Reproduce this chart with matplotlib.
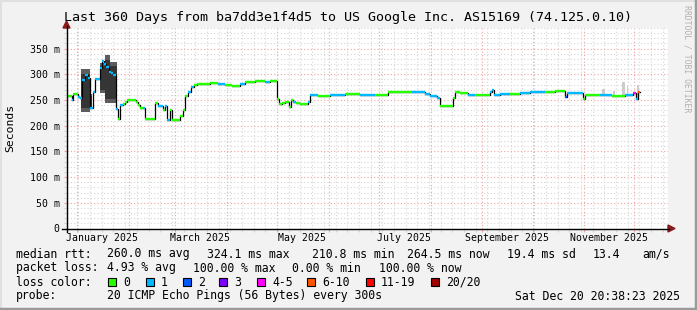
import matplotlib
matplotlib.use('Agg')
import matplotlib.pyplot as plt
import matplotlib.dates as mdates
from matplotlib.ticker import MultipleLocator, FuncFormatter, NullFormatter
from matplotlib.patches import Rectangle, Polygon
from matplotlib.lines import Line2D
import numpy as np
from datetime import datetime

W, H = 697, 310
MONO = 'DejaVu Sans Mono'

# ---- data ----
start = datetime(2024, 12, 25, 20, 38, 23)
end = datetime(2025, 12, 20, 20, 38, 23)

loss_labels = ['0', '1', '2', '3', '4-5', '6-10', '11-19', '20/20']
loss_colors = ['#26ff00', '#00b8ff', '#0059ff', '#7e00ff', '#ff00ff', '#ff5500', '#ff0000', '#a10000']

# median rtt, as runs: day offset from start, median (ms), loss class index
run_day = [0.0, 3.0, 3.9, 6.9, 8.1, 9.3, 11.1, 12.9, 14.1, 15.6, 17.1, 20.1, 21.3, 22.5,
           23.7, 25.5, 26.7, 27.9, 29.7, 30.9, 32.1, 33.6, 35.0, 36.2, 39.8, 41.6, 42.8,
           44.3, 45.8, 47.3, 53.0, 54.8, 57.8, 59.0, 60.2, 62.0, 63.2, 68.0, 69.8, 71.0,
           72.8, 74.6, 76.4, 78.2, 86.1, 90.8, 95.0, 99.2, 103.9, 106.9, 112.9, 118.9,
           121.9, 126.1, 127.3, 129.1, 130.9, 133.3, 134.5, 135.7, 137.5, 139.9, 144.7,
           145.9, 150.7, 157.8, 166.9, 175.8, 184.8, 192.6, 199.8, 207.0, 214.8, 217.8,
           222.0, 223.8, 231.6, 232.8, 235.8, 240.6, 244.8, 253.8, 255.0, 256.1, 259.7,
           265.7, 271.7, 277.7, 286.7, 292.7, 298.7, 299.9, 309.5, 310.7, 319.7, 326.9,
           334.7, 339.4, 341.2, 342.4]
run_ms = [258, 250, 261, 255, 253, 289, 298, 292, 234, 266, 291, 312, 325, 320,
          315, 305, 302, 298, 232, 213, 240, 243, 246, 249, 250, 246, 240,
          234, 235, 213, 244, 238, 230, 238, 212, 230, 212, 218, 230, 257,
          265, 276, 280, 282, 283, 281, 280, 277, 282, 285, 286, 285,
          286, 251, 243, 244, 247, 236, 250, 246, 245, 243, 247,
          260, 258, 259, 261, 259, 260, 265, 266, 265, 262, 257,
          253, 239, 253, 265, 263, 260, 259, 266, 269, 260, 262,
          261, 264, 266, 265, 267, 256, 264, 252, 259, 259, 258,
          259, 263, 252, 266]
run_loss = [0, 1, 0, 1, 1, 1, 1, 1, 1, 1, 1, 1, 1, 1,
            1, 1, 1, 1, 1, 0, 1, 0, 0, 0, 0, 0, 0,
            0, 1, 0, 0, 1, 0, 1, 1, 0, 0, 0, 0, 0,
            1, 1, 0, 0, 0, 1, 0, 0, 1, 0, 0, 1,
            0, 0, 0, 0, 0, 0, 0, 1, 0, 0, 1,
            1, 0, 1, 0, 1, 0, 0, 0, 1, 1, 1,
            1, 0, 0, 0, 0, 1, 0, 1, 1, 1, 1,
            0, 1, 1, 0, 0, 2, 1, 0, 0, 1, 0,
            1, 4, 1, 5]
data_end_day = 343.6

# smoke (spread of the 20 pings): day range, outer ms range, inner (dense) ms range
heavy_d0 = [8.7, 14.1, 20.1, 23.1, 26.1]
heavy_d1 = [14.1, 15.3, 23.1, 26.1, 30.0]
heavy_lo = [227, 232, 264, 244, 244]
heavy_hi = [310, 262, 322, 338, 324]
heavy_in_lo = [235, 236, 270, 252, 252]
heavy_in_hi = [300, 258, 316, 328, 316]

light_d0 = [320.8, 327.4, 332.8, 335.8, 341.8]
light_d1 = [322.6, 328.6, 334.6, 336.4, 343.0]
light_lo = [258, 256, 255, 255, 254]
light_hi = [272, 268, 284, 277, 280]

label_months = [datetime(2025, m, 1) for m in (1, 3, 5, 7, 9, 11)]

# ---- figure ----
t0 = mdates.date2num(start)
fig = plt.figure(figsize=(W / 100, H / 100), dpi=100, facecolor='#f2f2f2')
ax = fig.add_axes([66.5 / W, (H - 228.5) / H, 601 / W, 200.5 / H])
ax.set_facecolor('white')
ax.set_xlim(t0, mdates.date2num(end))
ax.set_ylim(0, 390)
for s in ax.spines.values():
    s.set_visible(False)

# grid
ax.xaxis.set_major_locator(mdates.MonthLocator())
ax.xaxis.set_minor_locator(mdates.WeekdayLocator(byweekday=mdates.TH))
ax.xaxis.set_major_formatter(NullFormatter())
ax.yaxis.set_major_locator(MultipleLocator(50))
ax.yaxis.set_minor_locator(MultipleLocator(10))
ax.yaxis.set_major_formatter(FuncFormatter(lambda v, p: '0' if v == 0 else '%d m' % v))
ax.grid(which='minor', color='#d6d6d6', ls=(0, (1, 2)), lw=0.8)
ax.grid(which='major', color='#f2a0a0', ls=(0, (1, 2)), lw=0.8)
ax.set_axisbelow(True)
ax.tick_params(which='major', length=2.5, width=0.8, color='#f2a0a0', pad=2.5,
               labelsize=7.1, labelfontfamily=MONO)
ax.tick_params(which='minor', length=2, width=0.8, color='#d6d6d6')

# smoke
for d0, d1, lo, hi in zip(heavy_d0, heavy_d1, heavy_lo, heavy_hi):
    ax.fill_between([t0 + d0, t0 + d1], [lo, lo], [hi, hi], color='#5c5c5c', lw=0)
for d0, d1, lo, hi in zip(heavy_d0, heavy_d1, heavy_in_lo, heavy_in_hi):
    ax.fill_between([t0 + d0, t0 + d1], [lo, lo], [hi, hi], color='#353535', lw=0)
for d0, d1, lo, hi in zip(light_d0, light_d1, light_lo, light_hi):
    ax.fill_between([t0 + d0, t0 + d1], [lo, lo], [hi, hi], color='#cccccc', lw=0)

# median line: black steps, coloured by loss
xs = t0 + np.array(run_day + [data_end_day])
ys = np.array(run_ms + [run_ms[-1]])
ax.step(xs, ys, where='post', color='black', lw=0.9)
ax.hlines(ys[:-1], xs[:-1], xs[1:], colors=[loss_colors[c] for c in run_loss], lw=1.7)

# month labels, centred half a month after the month start
for m in label_months:
    ax.text(mdates.date2num(m) + 15, -0.046, m.strftime('%B %Y'), transform=ax.get_xaxis_transform(),
            ha='center', va='center', fontsize=7.1, family=MONO)


def fx(x):
    return x / W


def fy(y):
    return 1 - y / H


# axis lines with arrows
fig.add_artist(Line2D([fx(62), fx(669)], [fy(228.5), fy(228.5)], color='black', lw=1))
fig.add_artist(Line2D([fx(66.5), fx(66.5)], [fy(232), fy(26)], color='black', lw=1))
fig.add_artist(Polygon([(fx(668), fy(225)), (fx(668), fy(232)), (fx(675), fy(228.5))],
                       closed=True, color='#8b1a1a', transform=fig.transFigure))
fig.add_artist(Polygon([(fx(63), fy(28)), (fx(70), fy(28)), (fx(66.5), fy(21))],
                       closed=True, color='#8b1a1a', transform=fig.transFigure))

# frame
fig.add_artist(Line2D([0, 1], [fy(0.5), fy(0.5)], color='#e0e0e0', lw=1.5))
fig.add_artist(Line2D([fx(0.5), fx(0.5)], [0, 1], color='#e0e0e0', lw=1.5))
fig.add_artist(Line2D([0, 1], [fy(308.8), fy(308.8)], color='#9a9a9a', lw=2.5))
fig.add_artist(Line2D([fx(695.8), fx(695.8)], [0, 1], color='#9a9a9a', lw=2.5))

# texts
fig.text(0.5, fy(18), 'Last 360 Days from ba7dd3e1f4d5 to US Google Inc. AS15169 (74.125.0.10)',
         ha='center', va='center', fontsize=9.6, family=MONO)
fig.text(fx(10), fy(128), 'Seconds', rotation=90, ha='center', va='center', fontsize=8.2, family=MONO)
fig.text(fx(687), fy(59), 'RRDTOOL / TOBI OETIKER', rotation=270, ha='center', va='center',
         fontsize=5.9, family=MONO, color='#b0b0b0')

LS = 8.3
row1 = [('median rtt:', 16), ('260.0 ms avg', 107), ('324.1 ms max', 207), ('210.8 ms min', 312),
        ('264.5 ms now', 407), ('19.4 ms sd', 507), ('13.4', 593), ('am/s', 642)]
row2 = [('packet loss:', 16), ('4.93 % avg', 107), ('100.00 % max', 193), ('0.00 % min', 292),
        ('100.00 % now', 379)]
for t, x in row1:
    fig.text(fx(x), fy(254), t, ha='left', va='center', fontsize=LS, family=MONO)
for t, x in row2:
    fig.text(fx(x), fy(268), t, ha='left', va='center', fontsize=LS, family=MONO)

fig.text(fx(16), fy(282), 'loss color:', ha='left', va='center', fontsize=LS, family=MONO)
box_x = [108, 146, 183, 219, 257, 307, 366, 431]
for bx, lab, col in zip(box_x, loss_labels, loss_colors):
    fig.add_artist(Rectangle((fx(bx), fy(286)), 8 / W, 8 / H, transform=fig.transFigure,
                             facecolor=col, edgecolor='black', lw=0.8))
    fig.text(fx(bx + 15), fy(282), lab, ha='left', va='center', fontsize=LS, family=MONO)

fig.text(fx(16), fy(296), 'probe:', ha='left', va='center', fontsize=LS, family=MONO)
fig.text(fx(107), fy(296), '20 ICMP Echo Pings (56 Bytes) every 300s', ha='left', va='center',
         fontsize=LS, family=MONO)
fig.text(fx(680), fy(296), 'Sat Dec 20 20:38:23 2025', ha='right', va='center', fontsize=LS, family=MONO)

fig.savefig('out.png', dpi=100, facecolor=fig.get_facecolor())
